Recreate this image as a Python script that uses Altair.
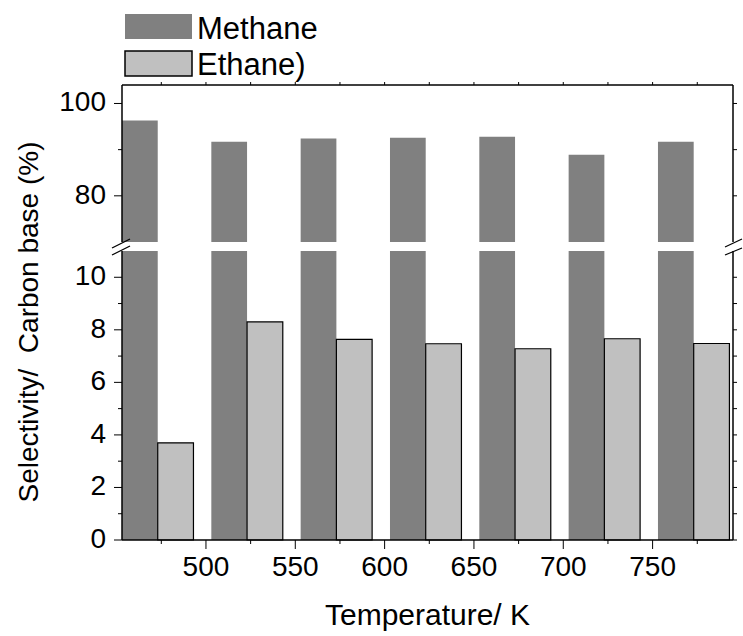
import altair as alt
import pandas as pd

# ---- data ----
temperatures = [473, 523, 573, 623, 673, 723, 773]
methane = [96.3, 91.7, 92.4, 92.6, 92.8, 88.9, 91.7]
ethane = [3.7, 8.3, 7.64, 7.47, 7.28, 7.66, 7.48]
series = ["Methane", "Ethane)"]

x_major = [500, 550, 600, 650, 700, 750]
x_minor = [475, 525, 575, 625, 675, 725, 775]
top_major = [80, 100]
top_minor = [90]
bot_major = [0, 2, 4, 6, 8, 10]
bot_minor = [1, 3, 5, 7, 9]
x_title = "Temperature/ K"
y_title = "Selectivity/\u00a0 Carbon base (%)"

# ---- layout / style ----
BAR = 20
W = 611
TOP0, TOP1 = 0, 157        # top panel pixel band
BOT0, BOT1 = 166, 455      # bottom panel pixel band
H = BOT1
FONT = "Liberation Sans"
FS_TICK = 28
C_METH = "#808080"
C_ETH = "#c0c0c0"

meth_df = pd.DataFrame({"T": temperatures, "v": methane})
meth_df["x0"] = meth_df["T"] - BAR
meth_df["x1"] = meth_df["T"]
eth_df = pd.DataFrame({"T": temperatures, "v": ethane})
eth_df["x0"] = eth_df["T"]
eth_df["x1"] = eth_df["T"] + BAR

xscale = alt.Scale(domain=[453, 795], nice=False, zero=False)
ytop = alt.Scale(domain=[70, 104], range=[TOP1, TOP0], nice=False, zero=False)
ybot = alt.Scale(domain=[0, 11], range=[BOT1, BOT0], nice=False, zero=False, clamp=True)

one = pd.DataFrame({"a": [0]})


def rule(x, x2, y, y2, sw=1.0):
    return alt.Chart(one).mark_rule(color="black", strokeWidth=sw).encode(
        x=alt.value(x), x2=alt.value(x2), y=alt.value(y), y2=alt.value(y2)
    )


def yticks(vals, scale, x, x2, sw=1.0):
    return alt.Chart(pd.DataFrame({"v": vals})).mark_rule(color="black", strokeWidth=sw).encode(
        y=alt.Y("v:Q", scale=scale, axis=None), x=alt.value(x), x2=alt.value(x2)
    )


def xticks(vals, y, y2, sw=1.0):
    return alt.Chart(pd.DataFrame({"t": vals})).mark_rule(color="black", strokeWidth=sw).encode(
        x=alt.X("t:Q", scale=xscale, axis=None), y=alt.value(y), y2=alt.value(y2)
    )


def ylabels(vals, scale):
    return alt.Chart(pd.DataFrame({"v": vals})).mark_text(
        font=FONT, fontSize=FS_TICK, align="right", baseline="middle", color="black"
    ).encode(y=alt.Y("v:Q", scale=scale, axis=None), x=alt.value(-16), text=alt.Text("v:Q"))


# bars
top_meth = alt.Chart(meth_df).mark_bar(color=C_METH).encode(
    x=alt.X("x0:Q", scale=xscale, axis=None), x2="x1:Q",
    y=alt.Y("v:Q", scale=ytop, axis=None), y2=alt.datum(70),
)
bot_meth = alt.Chart(meth_df).mark_bar(color=C_METH).encode(
    x=alt.X("x0:Q", scale=xscale, axis=None), x2="x1:Q",
    y=alt.Y("v:Q", scale=ybot, axis=None), y2=alt.datum(0),
)
bot_eth = alt.Chart(eth_df).mark_bar(color=C_ETH, stroke="black", strokeWidth=1.2).encode(
    x=alt.X("x0:Q", scale=xscale, axis=None), x2="x1:Q",
    y=alt.Y("v:Q", scale=ybot, axis=None), y2=alt.datum(0),
)

# frame lines
frame = [
    rule(0, 0, TOP0, TOP1, 1.5), rule(W, W, TOP0, TOP1, 1.5), rule(0, W, TOP0, TOP0, 1.5),
    rule(0, 0, BOT0, BOT1, 1.5), rule(W, W, BOT0, BOT1, 1.5), rule(0, W, BOT1, BOT1, 1.5),
]
# break marks
breaks = [
    rule(-10, 8, BOT0 - 3, BOT0 - 12, 1.3), rule(-10, 8, BOT0 + 4, BOT0 - 5, 1.3),
    rule(W - 8, W + 9, BOT0 - 4, BOT0 - 12, 1.3), rule(W - 8, W + 9, BOT0 + 4, BOT0 - 3, 1.3),
]

ticks = [
    yticks(top_major, ytop, -8, 0), yticks(top_minor, ytop, -4, 0),
    yticks(bot_major, ybot, -8, 0), yticks(bot_minor, ybot, -4, 0),
    yticks(top_major + top_minor, ytop, W, W + 4),
    yticks(bot_major + bot_minor, ybot, W, W + 4),
    xticks(x_major + x_minor, TOP0 - 3, TOP0),
    xticks(x_major, BOT1, BOT1 + 9), xticks(x_minor, BOT1, BOT1 + 4),
]

labels = [
    ylabels(top_major, ytop),
    ylabels(bot_major, ybot),
    alt.Chart(pd.DataFrame({"t": x_major})).mark_text(
        font=FONT, fontSize=FS_TICK, align="center", baseline="alphabetic", color="black"
    ).encode(x=alt.X("t:Q", scale=xscale, axis=None), y=alt.value(BOT1 + 36), text=alt.Text("t:Q")),
    alt.Chart(one).mark_text(
        text=x_title, font=FONT, fontSize=30, align="center", baseline="alphabetic", color="black"
    ).encode(x=alt.value(W / 2), y=alt.value(BOT1 + 85)),
    alt.Chart(one).mark_text(
        text=y_title, font=FONT, fontSize=28, align="center", baseline="middle", angle=270, color="black"
    ).encode(x=alt.value(-92), y=alt.value(237)),
]

legend = [
    alt.Chart(one).mark_rect(color=C_METH).encode(
        x=alt.value(3), x2=alt.value(70), y=alt.value(-71), y2=alt.value(-46)
    ),
    alt.Chart(one).mark_rect(color=C_ETH, stroke="black", strokeWidth=1.5).encode(
        x=alt.value(3), x2=alt.value(70), y=alt.value(-34), y2=alt.value(-9)
    ),
    alt.Chart(one).mark_text(
        text=series[0], font=FONT, fontSize=31, align="left", baseline="alphabetic", color="black"
    ).encode(x=alt.value(75), y=alt.value(-46)),
    alt.Chart(one).mark_text(
        text=series[1], font=FONT, fontSize=31, align="left", baseline="alphabetic", color="black"
    ).encode(x=alt.value(75), y=alt.value(-10)),
]

chart = alt.layer(
    top_meth, bot_meth, bot_eth, *frame, *breaks, *ticks, *labels, *legend
).resolve_scale(y="independent").properties(
    width=W, height=H,
    autosize=alt.AutoSizeParams(type="none"),
    padding={"left": 122, "top": 85, "right": 10, "bottom": 96},
).configure_view(stroke=None)

chart.save("out.html", embed_options={"renderer": "svg", "actions": False})
